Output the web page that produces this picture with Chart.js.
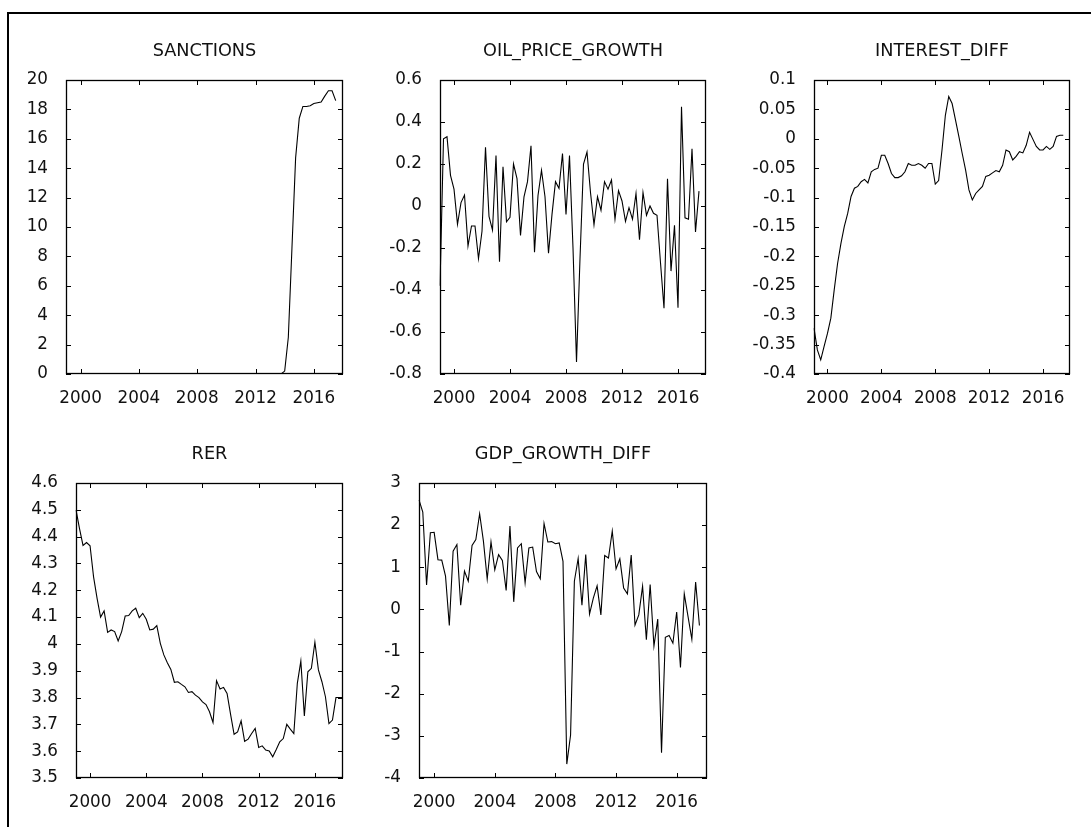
<!DOCTYPE html>
<html lang="en">
<head>
    <meta charset="UTF-8">
    <title>Series plots</title>
    <script src="https://cdn.jsdelivr.net/npm/chart.js"></script>
    <style>
        body { margin: 0; background: #fff; width: 1091px; height: 827px; overflow: hidden; position: relative; }
        .frame { position: absolute; left: 7px; top: 12px; right: 0; bottom: 0; border-top: 2px solid #000; border-left: 2px solid #000; }
        canvas { position: absolute; }
    </style>
</head>
<body>
<div class="frame"></div>
<canvas id="c1" width="353" height="384" style="left:2px; top:30px;"></canvas>
<canvas id="c2" width="342" height="384" style="left:376px; top:30px;"></canvas>
<canvas id="c3" width="332" height="384" style="left:750px; top:30px;"></canvas>
<canvas id="c4" width="343" height="385" style="left:12px; top:433px;"></canvas>
<canvas id="c5" width="364" height="385" style="left:355px; top:433px;"></canvas>

<script>
    // quarterly observations, 1999:1 - 2018:1
    const quarters = [
        '1999:1','1999:2','1999:3','1999:4','2000:1','2000:2','2000:3','2000:4',
        '2001:1','2001:2','2001:3','2001:4','2002:1','2002:2','2002:3','2002:4',
        '2003:1','2003:2','2003:3','2003:4','2004:1','2004:2','2004:3','2004:4',
        '2005:1','2005:2','2005:3','2005:4','2006:1','2006:2','2006:3','2006:4',
        '2007:1','2007:2','2007:3','2007:4','2008:1','2008:2','2008:3','2008:4',
        '2009:1','2009:2','2009:3','2009:4','2010:1','2010:2','2010:3','2010:4',
        '2011:1','2011:2','2011:3','2011:4','2012:1','2012:2','2012:3','2012:4',
        '2013:1','2013:2','2013:3','2013:4','2014:1','2014:2','2014:3','2014:4',
        '2015:1','2015:2','2015:3','2015:4','2016:1','2016:2','2016:3','2016:4',
        '2017:1','2017:2','2017:3','2017:4','2018:1'
    ];

    // x axis tick labels (first quarter of these years)
    const yearTicks = ['2000', '2004', '2008', '2012', '2016'];

    const sanctions = [
        0, 0, 0, 0, 0, 0, 0, 0, 0, 0,
        0, 0, 0, 0, 0, 0, 0, 0, 0, 0,
        0, 0, 0, 0, 0, 0, 0, 0, 0, 0,
        0, 0, 0, 0, 0, 0, 0, 0, 0, 0,
        0, 0, 0, 0, 0, 0, 0, 0, 0, 0,
        0, 0, 0, 0, 0, 0, 0, 0, 0, 0,
        0.2, 2.5, 8.6, 14.7, 17.4, 18.2, 18.2, 18.25, 18.4, 18.45,
        18.5, 18.9, 19.27, 19.27, 18.6, null, null
    ];

    const oilPriceGrowth = [
        -0.38, 0.32, 0.33, 0.146, 0.08, -0.087, 0.016, 0.052, -0.19, -0.095,
        -0.095, -0.25, -0.12, 0.28, -0.05, -0.115, 0.24, -0.265, 0.187, -0.075,
        -0.054, 0.2, 0.13, -0.14, 0.044, 0.116, 0.287, -0.22, 0.05, 0.17,
        0.044, -0.225, -0.04, 0.116, 0.084, 0.25, -0.04, 0.24, -0.2, -0.743,
        -0.25, 0.2, 0.257, 0.064, -0.089, 0.044, -0.02, 0.116, 0.08, 0.124,
        -0.063, 0.073, 0.024, -0.073, -0.008, -0.063, 0.06, -0.16, 0.064, -0.044,
        0.0, -0.035, -0.044, -0.27, -0.487, 0.13, -0.31, -0.092, -0.484, 0.473,
        -0.056, -0.063, 0.273, -0.124, 0.071, null, null
    ];

    const interestDiff = [
        -0.322, -0.359, -0.376, -0.353, -0.331, -0.305, -0.257, -0.212, -0.178, -0.149,
        -0.127, -0.098, -0.084, -0.081, -0.073, -0.069, -0.075, -0.056, -0.052, -0.05,
        -0.028, -0.028, -0.042, -0.059, -0.066, -0.066, -0.063, -0.056, -0.042, -0.045,
        -0.045, -0.042, -0.045, -0.05, -0.042, -0.042, -0.077, -0.071, -0.019, 0.04,
        0.072, 0.06, 0.032, 0.004, -0.025, -0.053, -0.087, -0.104, -0.093, -0.087,
        -0.081, -0.064, -0.062, -0.058, -0.054, -0.056, -0.045, -0.019, -0.022, -0.036,
        -0.03, -0.022, -0.024, -0.011, 0.011, -0.001, -0.013, -0.019, -0.019, -0.013,
        -0.018, -0.013, 0.004, 0.006, 0.006, null, null
    ];

    const rer = [
        4.5, 4.43, 4.367, 4.378, 4.366, 4.25, 4.17, 4.1, 4.123, 4.043,
        4.052, 4.046, 4.011, 4.046, 4.104, 4.106, 4.123, 4.133, 4.098, 4.114,
        4.092, 4.052, 4.055, 4.068, 4.002, 3.959, 3.93, 3.905, 3.857, 3.859,
        3.849, 3.84, 3.819, 3.822, 3.809, 3.8, 3.784, 3.774, 3.747, 3.707,
        3.863, 3.832, 3.838, 3.815, 3.737, 3.663, 3.672, 3.713, 3.637, 3.645,
        3.666, 3.685, 3.614, 3.62, 3.604, 3.601, 3.579, 3.606, 3.635, 3.647,
        3.7, 3.682, 3.666, 3.853, 3.936, 3.731, 3.896, 3.909, 4.006, 3.903,
        3.859, 3.803, 3.703, 3.716, 3.8, 3.8, 3.8
    ];

    const gdpGrowthDiff = [
        2.6, 2.31, 0.58, 1.82, 1.83, 1.18, 1.17, 0.79, -0.38, 1.38,
        1.54, 0.1, 0.91, 0.67, 1.52, 1.66, 2.27, 1.62, 0.72, 1.6,
        0.94, 1.3, 1.16, 0.45, 1.98, 0.18, 1.46, 1.56, 0.63, 1.46,
        1.48, 0.9, 0.73, 2.04, 1.6, 1.61, 1.56, 1.58, 1.14, -3.67,
        -2.98, 0.67, 1.21, 0.1, 1.3, -0.11, 0.27, 0.56, -0.13, 1.28,
        1.22, 1.86, 0.96, 1.2, 0.51, 0.37, 1.29, -0.37, -0.13, 0.55,
        -0.72, 0.59, -0.87, -0.23, -3.4, -0.66, -0.62, -0.8, -0.06, -1.38,
        0.37, -0.17, -0.71, 0.65, -0.38, null, null
    ];

    Chart.defaults.font.family = "'DejaVu Sans', Verdana, sans-serif";
    Chart.defaults.color = '#111';
    Chart.defaults.animation = false;

    // gnuplot style: plot box with ticks drawn inwards on all four sides
    const boxTicks = {
        id: 'boxTicks',
        afterDatasetsDraw(chart) {
            const ctx = chart.ctx;
            const a = chart.chartArea;
            const xs = chart.scales.x;
            const ys = chart.scales.y;
            const len = 5;
            ctx.save();
            ctx.strokeStyle = '#000';
            ctx.lineWidth = 1;
            ctx.beginPath();
            xs.ticks.forEach(t => {
                const px = Math.round(xs.getPixelForValue(t.value)) + 0.5;
                ctx.moveTo(px, a.bottom);
                ctx.lineTo(px, a.bottom - len);
                ctx.moveTo(px, a.top);
                ctx.lineTo(px, a.top + len);
            });
            ys.ticks.forEach(t => {
                const py = Math.round(ys.getPixelForValue(t.value)) + 0.5;
                ctx.moveTo(a.left, py);
                ctx.lineTo(a.left + len, py);
                ctx.moveTo(a.right, py);
                ctx.lineTo(a.right - len, py);
            });
            ctx.stroke();
            ctx.lineWidth = 1.3;
            ctx.strokeRect(a.left + 0.5, a.top + 0.5, a.right - a.left - 1, a.bottom - a.top - 1);
            ctx.restore();
        }
    };

    function makeChart(id, title, series, yMin, yMax, yStep) {
        const ctx = document.getElementById(id).getContext('2d');
        return new Chart(ctx, {
            type: 'line',
            data: {
                labels: quarters,
                datasets: [{
                    label: title,
                    data: series,
                    borderColor: '#000',
                    borderWidth: 1.1,
                    pointRadius: 0,
                    tension: 0,
                    fill: false
                }]
            },
            options: {
                responsive: false,
                layout: { padding: { left: 0, right: 12, top: 0, bottom: 0 } },
                plugins: {
                    legend: { display: false },
                    tooltip: { enabled: false },
                    title: {
                        display: true,
                        text: title,
                        fullSize: false,
                        color: '#111',
                        font: { size: 17.7, weight: 'normal' },
                        padding: { top: 10.4, bottom: 18.36 }
                    }
                },
                scales: {
                    x: {
                        type: 'category',
                        grid: { display: false },
                        border: { display: false },
                        afterBuildTicks: s => {
                            s.ticks = s.ticks.filter(t => yearTicks.includes(quarters[t.value].slice(0, 4)) && quarters[t.value].endsWith(':1'));
                        },
                        afterFit: s => { s.height = 40; },
                        ticks: {
                            autoSkip: false,
                            maxRotation: 0,
                            padding: 7,
                            font: { size: 16.8 },
                            callback: v => quarters[v].slice(0, 4)
                        }
                    },
                    y: {
                        min: yMin,
                        max: yMax,
                        grid: { display: false },
                        border: { display: false },
                        afterFit: s => { s.width = 64; },
                        ticks: {
                            stepSize: yStep,
                            padding: 10,
                            font: { size: 16.8 },
                            callback: v => String(Number(v.toFixed(2)))
                        }
                    }
                }
            },
            plugins: [boxTicks]
        });
    }

    makeChart('c1', 'SANCTIONS', sanctions, 0, 20, 2);
    makeChart('c2', 'OIL_PRICE_GROWTH', oilPriceGrowth, -0.8, 0.6, 0.2);
    makeChart('c3', 'INTEREST_DIFF', interestDiff, -0.4, 0.1, 0.05);
    makeChart('c4', 'RER', rer, 3.5, 4.6, 0.1);
    makeChart('c5', 'GDP_GROWTH_DIFF', gdpGrowthDiff, -4, 3, 1);
</script>
</body>
</html>
